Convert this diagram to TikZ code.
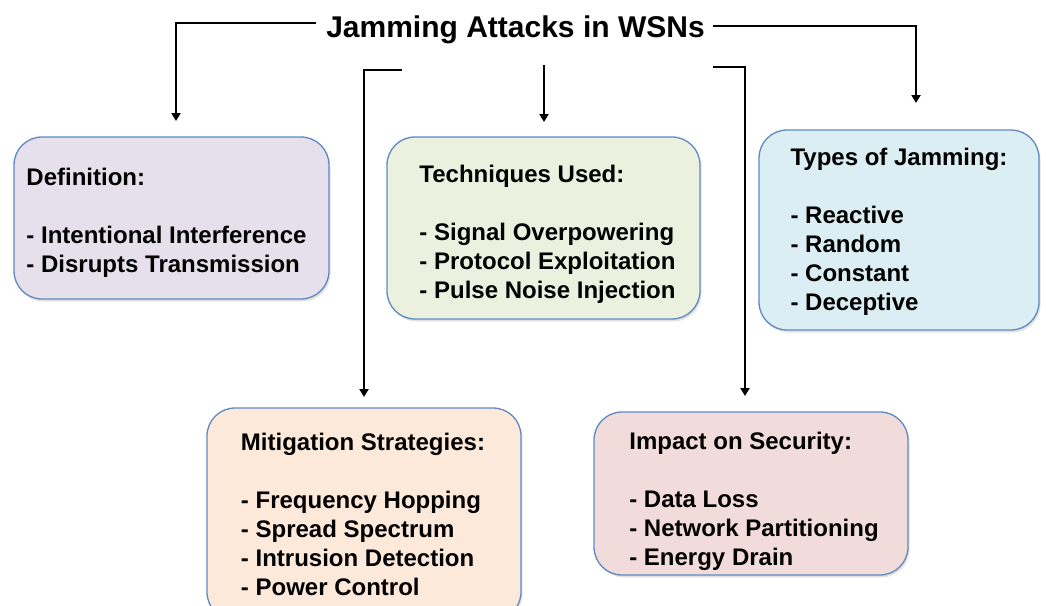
\documentclass[tikz,border=0pt]{standalone}
\usepackage{fontspec}
\setmainfont{Liberation Sans}
\usetikzlibrary{arrows.meta, shadows}
\definecolor{cardline}{RGB}{96,137,194}
\definecolor{defcol}{HTML}{E5E0EC}
\definecolor{techcol}{HTML}{EBF1DE}
\definecolor{typecol}{HTML}{DBEEF4}
\definecolor{mitcol}{HTML}{FDE9D9}
\definecolor{impcol}{HTML}{F2DCDB}
\tikzset{
  topic/.style={font=\bfseries\fontsize{30}{36}\selectfont, anchor=base},
  card/.style={rounded corners=28pt, draw=cardline, line width=1.3pt, inner sep=0pt,
    drop shadow={opacity=0.22, shadow xshift=1.5pt, shadow yshift=-2.5pt}},
  cardtext/.style={align=left, inner sep=0pt, font=\bfseries\fontsize{24}{29}\selectfont},
  flow/.style={-{Triangle[length=8pt, width=9pt]}, line width=2.2pt},
}

\begin{document}
\begin{tikzpicture}[x=1pt, y=-1pt]
  \clip (0,0) rectangle (1046,605);
  \fill[white] (0,0) rectangle (1046,605);

  \node[topic] (title) at (515.5,37) {Jamming Attacks in WSNs};

  % boxes
  \node[card, fill=defcol, minimum width=315pt, minimum height=162pt] (defin) at (171.5,218) {};
  \node[card, fill=techcol, minimum width=313pt, minimum height=182pt] (tech) at (543.5,228) {};
  \node[card, fill=typecol, minimum width=280pt, minimum height=200pt] (types) at (899,230) {};
  \node[card, fill=mitcol, minimum width=314pt, minimum height=212pt] (mitig) at (364,514) {};
  \node[card, fill=impcol, minimum width=314pt, minimum height=163pt] (impact) at (751,493.5) {};

  % box texts
  \node[cardtext] (defin-txt) at ([xshift=-5pt, yshift=-5pt]defin.center)
    {Definition:\\[29pt]- Intentional Interference\\- Disrupts Transmission};
  \node[cardtext] (tech-txt) at ([xshift=4pt, yshift=-6.5pt]tech.center)
    {Techniques Used:\\[29pt]- Signal Overpowering\\- Protocol Exploitation\\- Pulse Noise Injection};
  \node[cardtext] (types-txt) at ([yshift=-2pt]types.center)
    {Types of Jamming:\\[29pt]- Reactive\\- Random\\- Constant\\- Deceptive};
  \node[cardtext] (mitig-txt) at ([xshift=-1pt]mitig.center)
    {Mitigation Strategies:\\[29pt]- Frequency Hopping\\- Spread Spectrum\\- Intrusion Detection\\- Power Control};
  \node[cardtext] (impact-txt) at ([xshift=3pt, yshift=-7.5pt]impact.center)
    {Impact on Security:\\[29pt]- Data Loss\\- Network Partitioning\\- Energy Drain};

  % free ends of the connectors
  \coordinate (defin-in) at (176,121);
  \coordinate (tech-out) at (544,65);
  \coordinate (tech-in) at (544,122);
  \coordinate (types-in) at (916,103);
  \coordinate (mitig-out) at (402,70);
  \coordinate (mitig-in) at (364,397);
  \coordinate (impact-out) at (713,67);
  \coordinate (impact-in) at (745,396);

  \draw[flow] ([xshift=-7pt, yshift=6pt]title.west) -| (defin-in);
  \draw[flow] ([xshift=5pt, yshift=3pt]title.east) -| (types-in);
  \draw[flow] (tech-out) -- (tech-in);
  \draw[flow] (mitig-out) -| (mitig-in);
  \draw[flow] (impact-out) -| (impact-in);
\end{tikzpicture}
\end{document}
